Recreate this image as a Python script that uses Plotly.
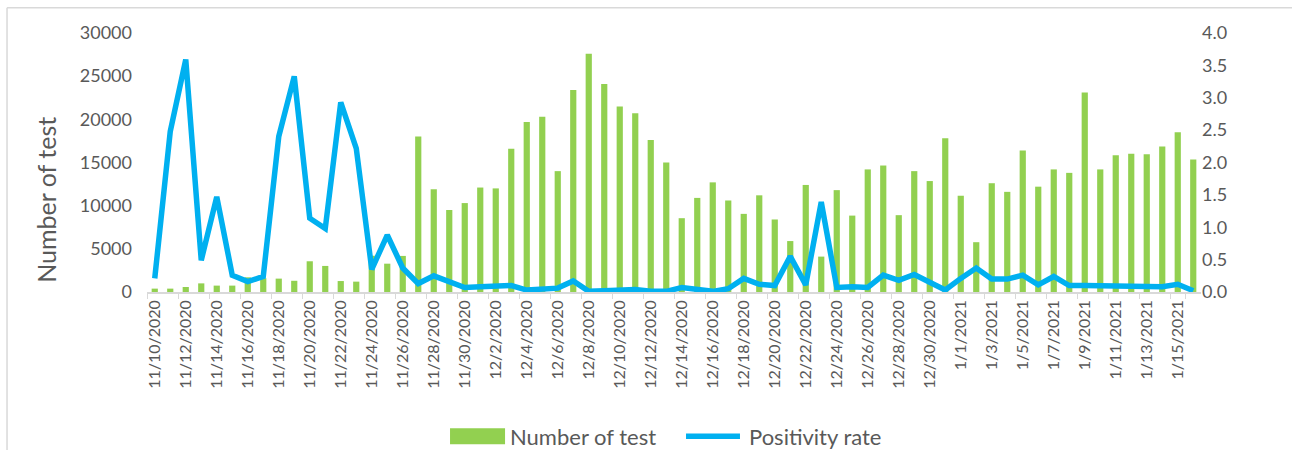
import pandas as pd
import plotly.graph_objects as go

# categories: one per day, 11/10/2020 .. 1/16/2021
days = pd.date_range("2020-11-10", "2021-01-16", freq="D")
dates = [f"{d.month}/{d.day}/{d.year}" for d in days]

# number of tests per day (left axis)
tests = [390, 390, 580, 1000, 740, 740, 1700, 1600, 1550, 1300,
         3560, 3020, 1270, 1200, 4200, 3280, 4180, 18000, 11900, 9500,
         10300, 12100, 12000, 16600, 19700, 20300, 14000, 23400, 27600, 24100,
         21500, 20700, 17600, 15000, 8550, 10900, 12700, 10600, 9050, 11200,
         8400, 5900, 12400, 4100, 11800, 8850, 14200, 14650, 8900, 14000,
         12850, 17800, 11150, 5770, 12600, 11600, 16400, 12200, 14200, 13800,
         23100, 14200, 15850, 16000, 15950, 16850, 18500, 15350]

# positivity rate (right axis)
rate = [0.21, 2.48, 3.59, 0.49, 1.47, 0.26, 0.16, 0.24, 2.40, 3.33,
        1.14, 0.98, 2.93, 2.22, 0.35, 0.88, 0.37, 0.13, 0.25, 0.16,
        0.07, 0.08, 0.09, 0.10, 0.03, 0.05, 0.06, 0.17, 0.01, 0.02,
        0.02, 0.04, 0.01, 0.01, 0.07, 0.05, 0.01, 0.05, 0.21, 0.12,
        0.10, 0.55, 0.11, 1.39, 0.07, 0.08, 0.07, 0.26, 0.18, 0.27,
        0.16, 0.03, 0.21, 0.37, 0.20, 0.20, 0.26, 0.11, 0.24, 0.10,
        0.10, 0.10, 0.10, 0.09, 0.08, 0.08, 0.12, 0.02]

left_ticks = [0, 5000, 10000, 15000, 20000, 25000, 30000]
right_ticks = [0, 0.5, 1.0, 1.5, 2.0, 2.5, 3.0, 3.5, 4.0]

GREY = "#595959"
GREEN = "#92D050"
BLUE = "#00B0F0"
FONT = "Lato"

fig = go.Figure()
fig.add_trace(go.Bar(x=dates, y=tests, name="Number of test",
                     marker=dict(color=GREEN, line=dict(width=0))))
fig.add_trace(go.Scatter(x=dates, y=rate, name="Positivity rate", yaxis="y2",
                         mode="lines", line=dict(color=BLUE, width=5.5),
                         cliponaxis=False))

fig.update_layout(
    width=1292, height=450,
    margin=dict(l=147, r=91, t=33, b=158),
    paper_bgcolor="white", plot_bgcolor="white",
    font=dict(family=FONT, color=GREY, size=16),
    bargap=0.6,
    showlegend=False,
    xaxis=dict(type="category", tickmode="array", tickvals=dates[::2], ticktext=dates[::2],
               tickangle=-90, tickson="boundaries", ticks="outside", ticklen=5,
               tickcolor="#D9D9D9", showline=True, linecolor="#D9D9D9", linewidth=1.5,
               showgrid=False, tickfont=dict(size=16, color=GREY), range=[-0.5, 67.5],
               automargin=False),
    yaxis=dict(range=[0, 30000], tickvals=left_ticks, tickformat="d", showgrid=False,
               zeroline=False, showline=False, ticks="", ticklabelstandoff=14,
               tickfont=dict(size=18, color=GREY), automargin=False),
    yaxis2=dict(range=[0, 4], tickvals=right_ticks, tickformat=".1f", overlaying="y",
                side="right", showgrid=False, zeroline=False, showline=False, ticks="",
                tickfont=dict(size=18, color=GREY), automargin=False),
)

fig.add_annotation(text="Number of test", xref="paper", yref="paper",
                   x=-0.0958, y=0.356, xanchor="center", yanchor="middle",
                   textangle=-90, showarrow=False, font=dict(size=25, color=GREY))

# legend drawn below the axis labels
fig.add_shape(type="rect", xref="paper", yref="paper", x0=0.2875, x1=0.3397,
              y0=-0.5876, y1=-0.5257, fillcolor=GREEN, line=dict(width=0))
fig.add_annotation(text="Number of test", xref="paper", yref="paper",
                   x=0.3425, y=-0.5567, xanchor="left", yanchor="middle",
                   showarrow=False, font=dict(size=22, color=GREY))
fig.add_shape(type="line", xref="paper", yref="paper", x0=0.5114, x1=0.5626,
              y0=-0.5567, y1=-0.5567, line=dict(color=BLUE, width=5.5))
fig.add_annotation(text="Positivity rate", xref="paper", yref="paper",
                   x=0.5693, y=-0.5567, xanchor="left", yanchor="middle",
                   showarrow=False, font=dict(size=22, color=GREY))

# light chart frame (left and top edges)
fig.add_shape(type="line", xref="paper", yref="paper", x0=-0.1328, x1=-0.1328,
              y0=-0.62, y1=1.0978, line=dict(color="#D9D9D9", width=1.5))
fig.add_shape(type="line", xref="paper", yref="paper", x0=-0.1328, x1=1.09,
              y0=1.0978, y1=1.0978, line=dict(color="#D9D9D9", width=1.5))

# page has a default body margin; drop it so the figure fills the window
fig.write_html("out.html", config={"displayModeBar": False},
               post_script="document.body.style.margin='0';")
